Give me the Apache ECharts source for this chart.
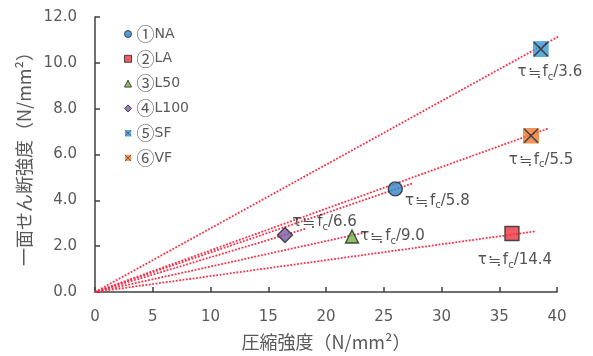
<!DOCTYPE html>
<html>
<head>
<meta charset="utf-8">
<script src="https://cdn.jsdelivr.net/npm/echarts@6/dist/echarts.min.js"></script>
<style>
  html, body { margin: 0; padding: 0; background: #ffffff; }
  #chart { width: 593px; height: 356px; }
</style>
</head>
<body>
<div id="chart"></div>
<script>
// Specimen groups: compressive strength vs. single-plane shear strength (N/mm²)
const groupNames     = ['①NA', '②LA', '③L50', '④L100', '⑤SF', '⑥VF'];
const compStrength   = [26.0, 36.1, 22.25, 16.45, 38.6, 37.75];
const shearStrength  = [4.5, 2.55, 2.42, 2.49, 10.6, 6.82];
// τ ≒ fc / k for each group
const ratioK         = [5.8, 14.4, 9.0, 6.6, 3.6, 5.5];
const ratioText      = ['5.8', '14.4', '9.0', '6.6', '3.6', '5.5'];
// x value where each fitted line stops
const lineEndX       = [27.5, 38.2, 23.5, 18.3, 41.0, 39.3];
const xTickValues    = [0, 5, 10, 15, 20, 25, 30, 35, 40];
const yTickValues    = [0, 2, 4, 6, 8, 10, 12];

const CJK = '"Noto Sans CJK JP", sans-serif';
const LATIN = '"DejaVu Sans", "Noto Sans", sans-serif';
const AXIS_COLOR = '#404040';
const TEXT_GRAY = '#595959';
const LINE_RED = '#ff2d45';

// Filled square with a black cross, as an inline SVG symbol
function crossSquare(fill) {
  const svg = "<svg xmlns='http://www.w3.org/2000/svg' width='32' height='32'>" +
    "<rect x='0' y='0' width='32' height='32' fill='" + fill + "'/>" +
    "<path d='M2,2L30,30M30,2L2,30' stroke='#1a1a1a' stroke-width='3.2'/></svg>";
  return 'image://data:image/svg+xml;charset=utf-8,' + encodeURIComponent(svg);
}

const markerStyles = [
  { symbol: 'circle',   size: 14, color: '#2e86c9' },
  { symbol: 'rect',     size: 14, color: '#ec3340' },
  { symbol: 'triangle', size: 13, color: '#72b043' },
  { symbol: 'diamond',  size: 15, color: '#7a5aa6' },
  { symbol: crossSquare('#3498da'), size: 16, color: '#3498da', image: true },
  { symbol: crossSquare('#f07830'), size: 16, color: '#f07830', image: true }
];

// label placement around each marker
const labelPlace = [
  { position: 'right',  offset: [-3, 12] },
  { position: 'bottom', offset: [3, 4] },
  { position: 'right',  offset: [-4, 0] },
  { position: 'right',  offset: [-6, -13] },
  { position: 'bottom', offset: [9, 0] },
  { position: 'bottom', offset: [10, 1] }
];

const richLabel = {
  t: { fontSize: 15, color: '#262626', fontFamily: LATIN, lineHeight: 20 },
  e: { fontSize: 16, color: '#262626', fontFamily: CJK, lineHeight: 20, padding: [0, 2, 0, 1] },
  s: { fontSize: 10, color: '#262626', fontFamily: LATIN, lineHeight: 10, padding: [10, 0, 0, 0] }
};

const series = [];

// dotted proportional lines through the origin
groupNames.forEach((name, i) => {
  series.push({
    type: 'line',
    name: 'fit' + i,
    data: [[0, 0], [lineEndX[i], lineEndX[i] / ratioK[i]]],
    symbol: 'none',
    clip: false,
    silent: true,
    z: 1,
    lineStyle: { color: LINE_RED, width: 1.8, type: [1.8, 1.6] }
  });
});

// group markers with τ ≒ fc/k annotations
groupNames.forEach((name, i) => {
  const m = markerStyles[i];
  series.push({
    type: 'scatter',
    name: name,
    data: [[compStrength[i], shearStrength[i]]],
    symbol: m.symbol,
    symbolSize: m.size,
    z: 3,
    itemStyle: m.image ? { color: m.color } :
      { color: m.color, borderColor: '#262626', borderWidth: 1.4 },
    label: {
      show: true,
      position: labelPlace[i].position,
      offset: labelPlace[i].offset,
      formatter: '{t|τ}{e|≒}{t|f}{s|c}{t|/' + ratioText[i] + '}',
      rich: richLabel
    }
  });
});

const chart = echarts.init(document.getElementById('chart'));
chart.setOption({
  animation: false,
  backgroundColor: '#ffffff',
  grid: { left: 95, right: 36, top: 17, bottom: 63, containLabel: false },
  legend: {
    data: groupNames,
    orient: 'vertical',
    left: 119,
    top: 20,
    itemWidth: 7,
    itemHeight: 7,
    itemGap: 6.8,
    itemStyle: { borderWidth: 1 },
    formatter: n => '{c|' + n.charAt(0) + '}{l|' + n.slice(1) + '}',
    textStyle: {
      color: TEXT_GRAY,
      rich: {
        c: { fontSize: 18, fontFamily: CJK, color: TEXT_GRAY, lineHeight: 18 },
        l: { fontSize: 14, fontFamily: LATIN, color: TEXT_GRAY, lineHeight: 18 }
      }
    }
  },
  xAxis: {
    type: 'value',
    min: xTickValues[0],
    max: xTickValues[xTickValues.length - 1],
    interval: xTickValues[1] - xTickValues[0],
    name: '圧縮強度（N/mm²）',
    nameLocation: 'middle',
    nameGap: 41,
    nameTextStyle: { color: TEXT_GRAY, fontSize: 18, fontFamily: CJK },
    axisLine: { show: true, onZero: false, lineStyle: { color: AXIS_COLOR, width: 1.5 } },
    axisTick: { show: true, inside: true, length: 5, lineStyle: { color: AXIS_COLOR, width: 1.5 } },
    axisLabel: { color: TEXT_GRAY, fontSize: 15, fontFamily: LATIN, margin: 18 },
    splitLine: { show: false }
  },
  yAxis: {
    type: 'value',
    min: yTickValues[0],
    max: yTickValues[yTickValues.length - 1],
    interval: yTickValues[1] - yTickValues[0],
    name: '一面せん断強度（N/mm²）',
    nameLocation: 'middle',
    nameGap: 58,
    nameTextStyle: { color: TEXT_GRAY, fontSize: 18, fontFamily: CJK },
    axisLine: { show: true, onZero: false, lineStyle: { color: AXIS_COLOR, width: 1.5 } },
    axisTick: { show: true, inside: true, length: 5, lineStyle: { color: AXIS_COLOR, width: 1.5 } },
    axisLabel: {
      color: TEXT_GRAY, fontSize: 15, fontFamily: LATIN, margin: 18,
      formatter: v => v.toFixed(1)
    },
    splitLine: { show: false }
  },
  series: series
});
</script>
</body>
</html>
